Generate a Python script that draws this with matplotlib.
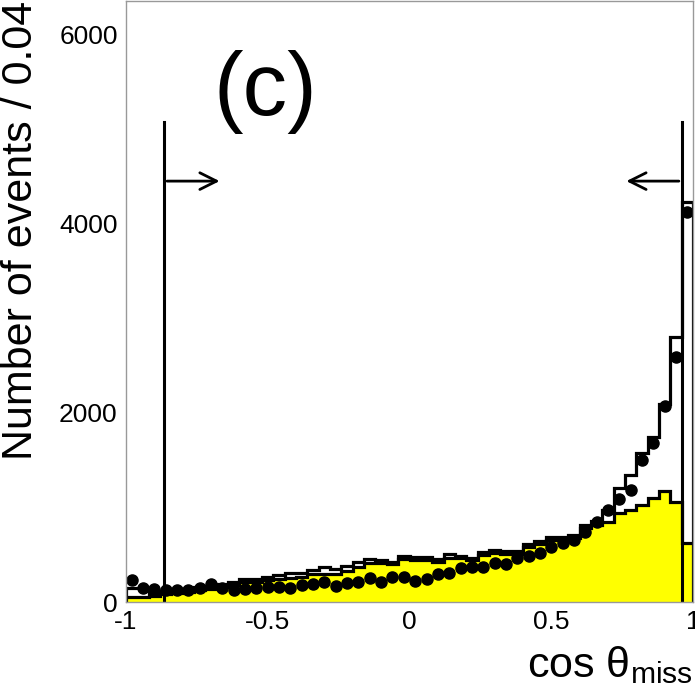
import numpy as np
import matplotlib
matplotlib.use("Agg")
import matplotlib.pyplot as plt

plt.rcParams['font.family'] = ['Liberation Sans', 'DejaVu Sans']
plt.rcParams['mathtext.fontset'] = 'custom'
plt.rcParams['mathtext.rm'] = 'Liberation Sans'
plt.rcParams['mathtext.it'] = 'Liberation Sans'

# binning: 50 bins of 0.04 in cos(theta_miss)
x_low = -1.0
bin_width = 0.04
n_bins = 50

# total MC (open histogram)
total_mc = [150, 150, 95, 115, 125, 140, 155, 170, 190, 215,
            243, 243, 268, 285, 310, 310, 338, 375, 347, 380,
            422, 458, 444, 426, 489, 479, 472, 451, 504, 486,
            461, 531, 549, 542, 542, 609, 644, 690, 690, 708,
            810, 860, 970, 1201, 1341, 1575, 1746, 2090, 2803, 4229]

# background (yellow)
background = [50, 50, 60, 80, 95, 110, 125, 140, 160, 180,
              215, 215, 232, 240, 255, 265, 295, 300, 300, 331,
              373, 409, 410, 400, 455, 440, 440, 420, 470, 460,
              440, 500, 520, 510, 510, 580, 610, 650, 650, 680,
              780, 815, 840, 945, 972, 1025, 1095, 1178, 1055, 620]

# data points
data = [232, 150, 134, 127, 127, 127, 145, 190, 145, 127,
        134, 145, 155, 160, 150, 180, 185, 210, 165, 197,
        210, 255, 215, 260, 268, 222, 243, 296, 310, 356,
        373, 373, 415, 405, 461, 490, 521, 584, 620, 655,
        743, 848, 972, 1085, 1183, 1500, 1676, 2070, 2591, 4123]

# selection cuts
cut_low = -0.865
cut_high = 0.96
cut_top = 5070
arrow_y = 4447
arrow_len = 0.205

edges = x_low + bin_width * np.arange(n_bins + 1)
centers = edges[:-1] + bin_width / 2

fig = plt.figure(figsize=(6.95, 6.97), dpi=100)
ax = fig.add_axes([126 / 695, 1 - 602 / 697, (693 - 126) / 695, 601 / 697])

ax.stairs(total_mc, edges, color='black', lw=2.3, baseline=0)
ax.stairs(background, edges, fill=True, color='#ffff00', baseline=0)
ax.stairs(background, edges, color='black', lw=2.3, baseline=0)
ax.plot(centers, data, 'o', color='black', markersize=8)

# cut lines and arrows
ax.plot([cut_low, cut_low], [0, cut_top], color='black', lw=2.2)
ax.plot([cut_high, cut_high], [0, cut_top], color='black', lw=2.2)
ax.annotate('', xy=(cut_low + arrow_len, arrow_y), xytext=(cut_low, arrow_y),
            arrowprops=dict(arrowstyle='->', color='black', lw=2,
                            mutation_scale=30))
ax.annotate('', xy=(cut_high - arrow_len, arrow_y), xytext=(cut_high, arrow_y),
            arrowprops=dict(arrowstyle='->', color='black', lw=2,
                            mutation_scale=30))

ax.text(-0.51, 5390, '(c)', fontsize=64, ha='center', va='center')

ax.set_xlim(-1, 1)
ax.set_ylim(0, 6350)
ax.set_xticks([-1, -0.5, 0, 0.5, 1])
ax.set_xticklabels(['-1', '-0.5', '0', '0.5', '1'])
ax.set_yticks([0, 2000, 4000, 6000])
ax.tick_params(length=0, labelsize=19, pad=6)

for s in ax.spines.values():
    s.set_color('#999999')
    s.set_linewidth(1)

ax.set_ylabel('Number of events / 0.04', fontsize=31, loc='top')
ax.yaxis.set_label_coords(-0.15, 1.0)
ax.set_xlabel(r'cos $\mathrm{\theta}_{\mathrm{miss}}$', fontsize=31, loc='right')
ax.xaxis.set_label_coords(1.0, -0.07)

fig.savefig('out.png', dpi=100)
